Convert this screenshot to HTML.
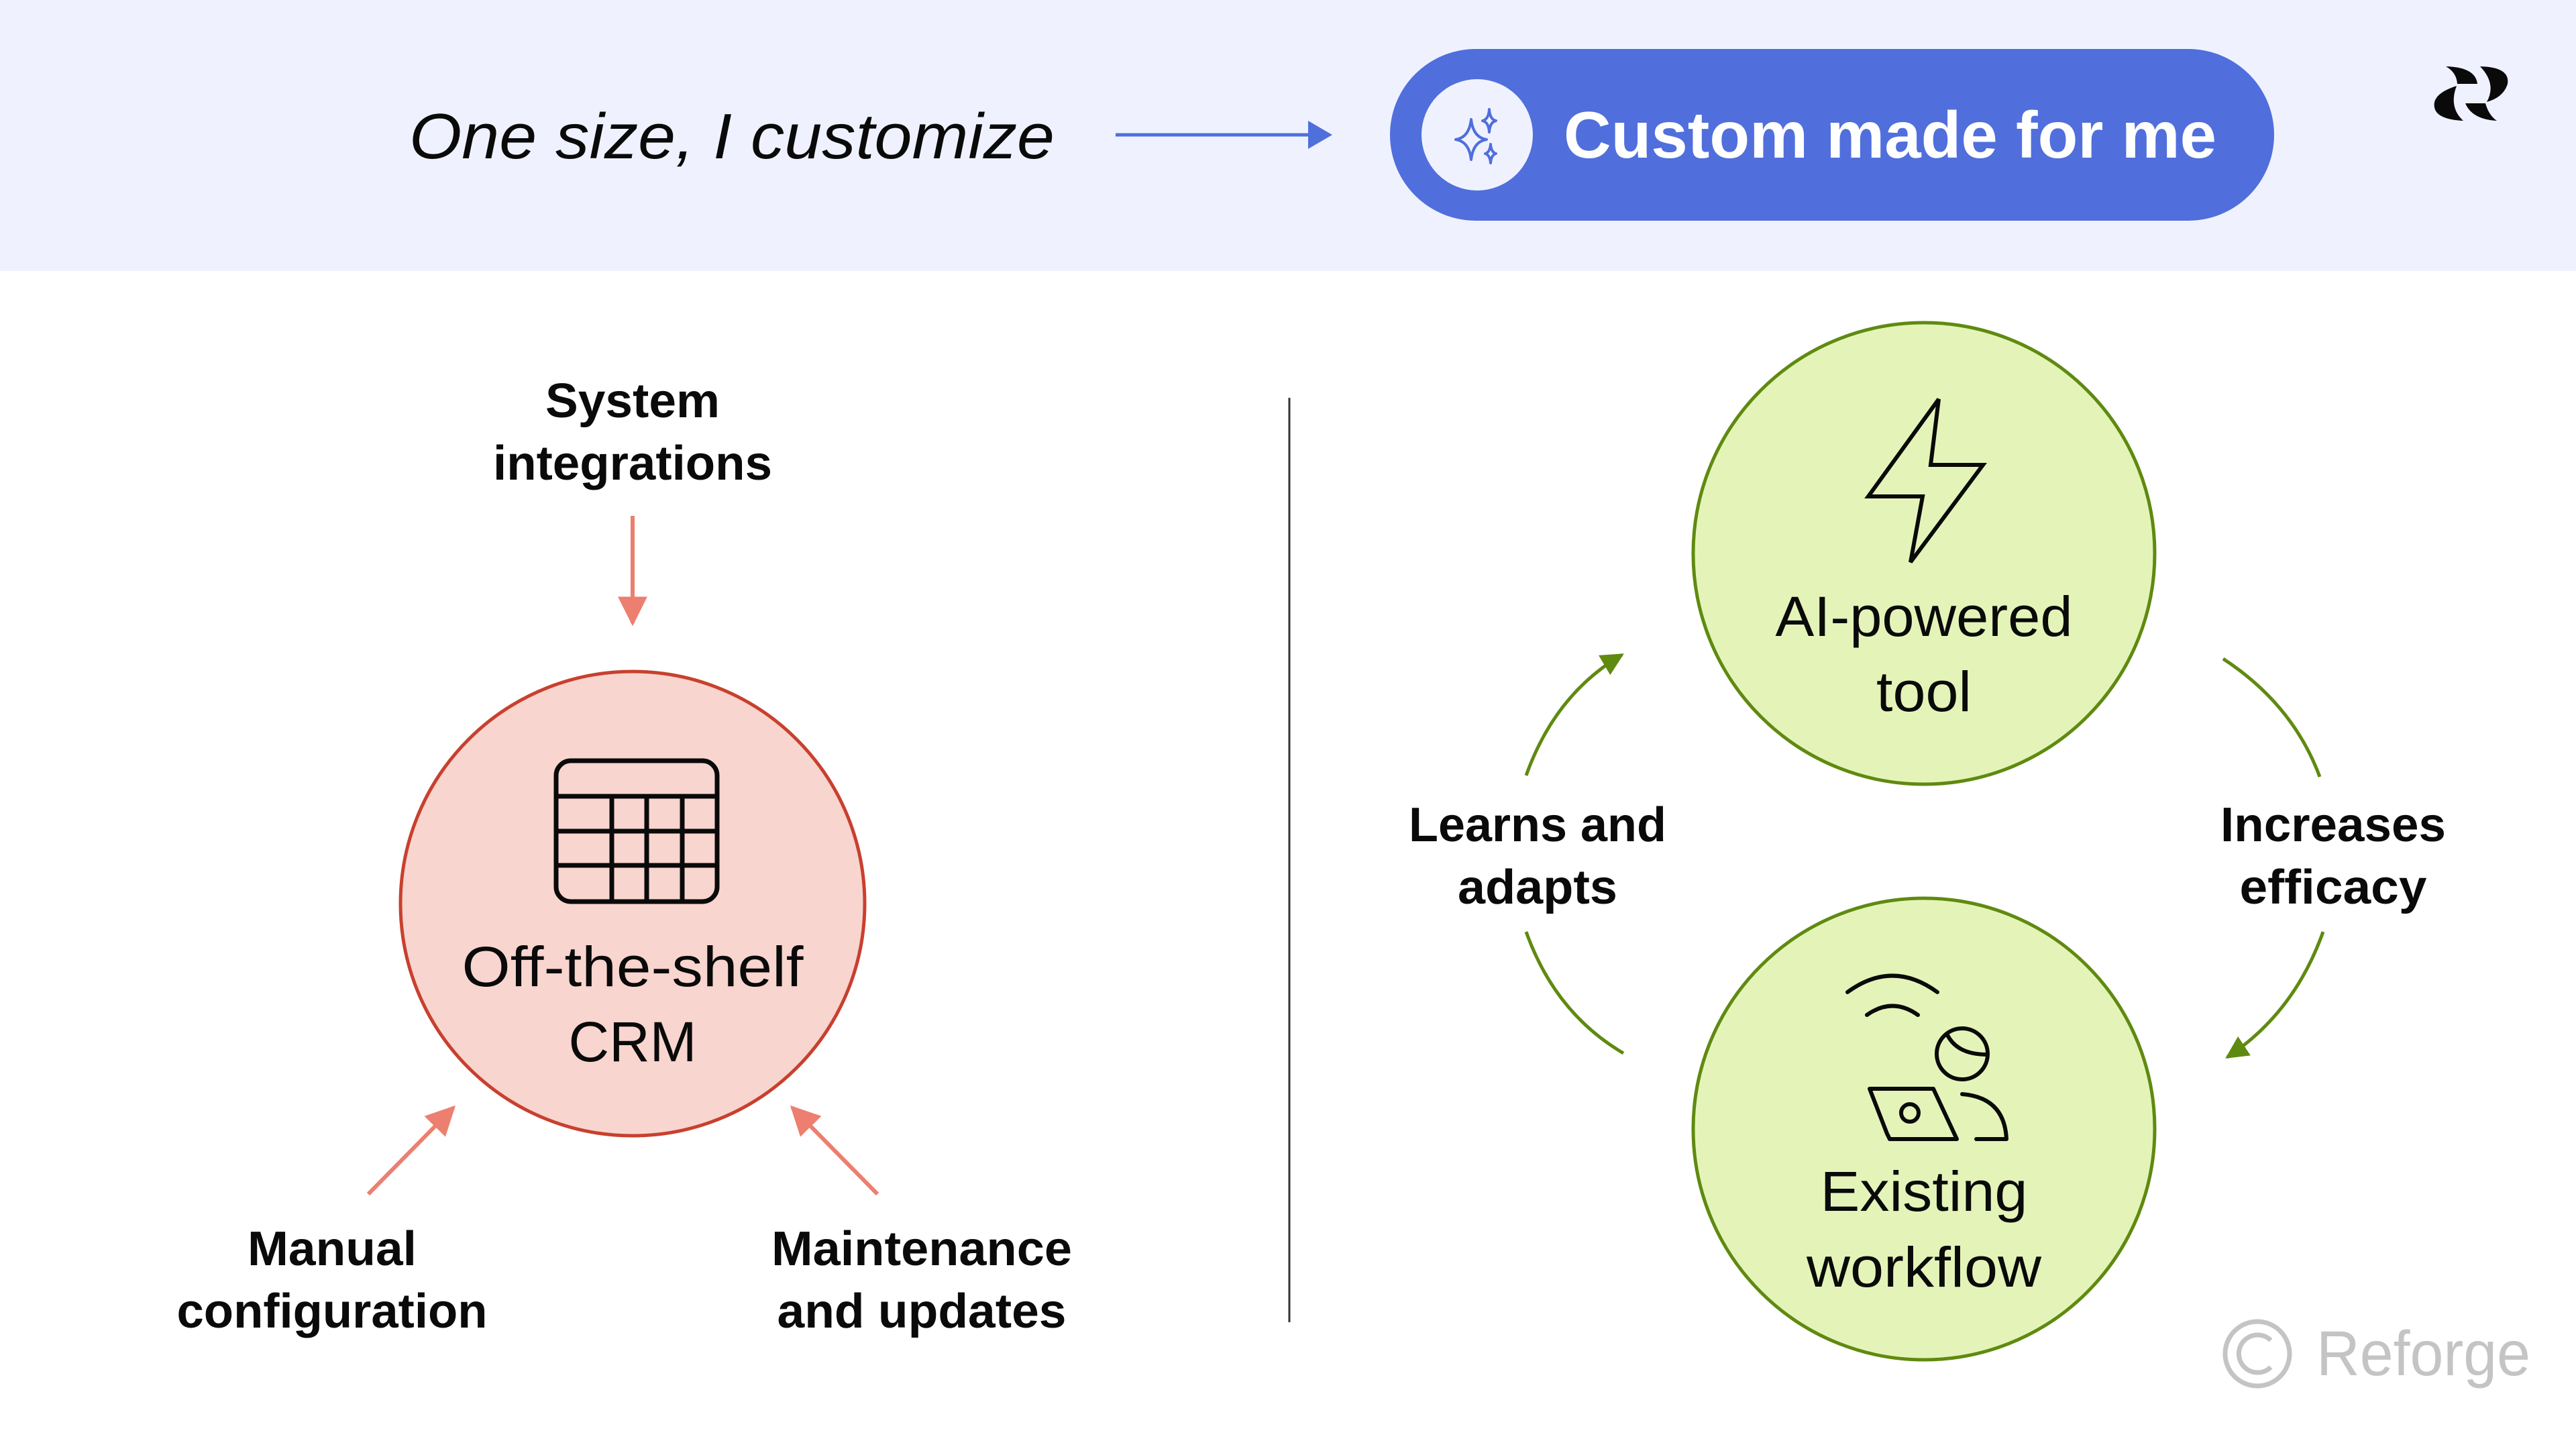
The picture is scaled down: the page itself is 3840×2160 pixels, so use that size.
<!DOCTYPE html>
<html><head><meta charset="utf-8"><style>
html,body{margin:0;padding:0;width:3840px;height:2160px;overflow:hidden;background:#fff}
svg{display:block}
text{font-family:"Liberation Sans",sans-serif;fill:#0a0a0a}
</style></head><body>
<svg width="3840" height="2160" viewBox="0 0 3840 2160" xmlns="http://www.w3.org/2000/svg">
<defs>
<marker id="ar" viewBox="0 0 10 10" refX="9" refY="5" markerWidth="44" markerHeight="44" orient="auto" markerUnits="userSpaceOnUse"><path d="M0,0 L10,5 L0,10 Z" fill="#ec7f6f"/></marker>
<marker id="ag" viewBox="0 0 10 10" refX="9" refY="5" markerWidth="34" markerHeight="34" orient="auto" markerUnits="userSpaceOnUse"><path d="M0,0 L10,5 L0,10 Z" fill="#5f8a10"/></marker>
</defs>
<rect x="0" y="0" width="3840" height="404" fill="#eff2fe"/>
<text x="610" y="236" font-size="96" font-style="italic" textLength="962" lengthAdjust="spacingAndGlyphs">One size, I customize</text>
<line x1="1663" y1="201" x2="1960" y2="201" stroke="#4f6fdc" stroke-width="5"/>
<path d="M1950,180 L1986,201 L1950,222 Z" fill="#4f6fdc"/>
<rect x="2072" y="73" width="1318" height="256" rx="128" fill="#506fdc"/>
<circle cx="2202" cy="201" r="83" fill="#eff2fe"/>
<g fill="none" stroke="#506fdc" stroke-width="4" stroke-linejoin="round">
<path d="M2193,178 Q2196,205 2216,208 Q2196,211 2193,238 Q2190,211 2170,208 Q2190,205 2193,178 Z"/>
<path d="M2220,163 Q2221,178 2230,180 Q2221,182 2220,197 Q2219,182 2210,180 Q2219,178 2220,163 Z"/>
<path d="M2222,215 Q2223,227 2230,229 Q2223,231 2222,243 Q2221,231 2214,229 Q2221,227 2222,215 Z"/>
</g>
<text x="2331" y="235" font-size="98" font-weight="bold" style="fill:#fff" textLength="973" lengthAdjust="spacingAndGlyphs">Custom made for me</text>
<g fill="#0a0a0a">
<path d="M3646,99 Q3690,100 3693,125 L3663,125 Q3662,108 3646,99 Z"/>
<path d="M3697,99 Q3742,100 3738,125 Q3732,145 3707,152 Q3722,125 3697,99 Z"/>
<path d="M3662,128 Q3625,140 3629,160 Q3632,178 3672,180 Q3650,160 3662,128 Z"/>
<path d="M3675,154 L3705,154 Q3710,172 3722,180 Q3685,178 3675,154 Z"/>
</g>
<line x1="1922" y1="593" x2="1922" y2="1971" stroke="#333" stroke-width="3"/>
<text x="943" y="622" font-size="72" font-weight="bold" text-anchor="middle" textLength="260" lengthAdjust="spacingAndGlyphs">System</text>
<text x="943" y="715" font-size="72" font-weight="bold" text-anchor="middle" textLength="416" lengthAdjust="spacingAndGlyphs">integrations</text>
<line x1="943" y1="769" x2="943" y2="929" stroke="#ec7f6f" stroke-width="6" marker-end="url(#ar)"/>
<circle cx="943" cy="1347" r="346" fill="#f8d5cf" stroke="#c8402e" stroke-width="5"/>
<g fill="none" stroke="#0a0a0a" stroke-width="7">
<rect x="829" y="1134" width="240" height="210" rx="22"/>
<line x1="829" y1="1187" x2="1069" y2="1187"/>
<line x1="829" y1="1239" x2="1069" y2="1239"/>
<line x1="829" y1="1290" x2="1069" y2="1290"/>
<line x1="912" y1="1187" x2="912" y2="1344"/>
<line x1="964" y1="1187" x2="964" y2="1344"/>
<line x1="1017" y1="1187" x2="1017" y2="1344"/>
</g>
<text x="943" y="1470" font-size="84" text-anchor="middle" textLength="509" lengthAdjust="spacingAndGlyphs">Off-the-shelf</text>
<text x="943" y="1582" font-size="84" text-anchor="middle" textLength="191" lengthAdjust="spacingAndGlyphs">CRM</text>
<line x1="549" y1="1780" x2="676" y2="1651" stroke="#ec7f6f" stroke-width="6" marker-end="url(#ar)"/>
<line x1="1308" y1="1780" x2="1181" y2="1651" stroke="#ec7f6f" stroke-width="6" marker-end="url(#ar)"/>
<text x="495" y="1886" font-size="72" font-weight="bold" text-anchor="middle" textLength="252" lengthAdjust="spacingAndGlyphs">Manual</text>
<text x="495" y="1979" font-size="72" font-weight="bold" text-anchor="middle" textLength="463" lengthAdjust="spacingAndGlyphs">configuration</text>
<text x="1374" y="1886" font-size="72" font-weight="bold" text-anchor="middle" textLength="448" lengthAdjust="spacingAndGlyphs">Maintenance</text>
<text x="1374" y="1979" font-size="72" font-weight="bold" text-anchor="middle" textLength="431" lengthAdjust="spacingAndGlyphs">and updates</text>
<circle cx="2868" cy="825" r="344" fill="#e4f4b9" stroke="#5f8a10" stroke-width="5"/>
<path d="M2890,595 L2785,740 L2866,740 L2848,838 L2956,693 L2878,693 Z" fill="none" stroke="#0a0a0a" stroke-width="6"/>
<text x="2868" y="948" font-size="84" text-anchor="middle" textLength="443" lengthAdjust="spacingAndGlyphs">AI-powered</text>
<text x="2868" y="1060" font-size="84" text-anchor="middle" textLength="142" lengthAdjust="spacingAndGlyphs">tool</text>
<circle cx="2868" cy="1683" r="344" fill="#e4f4b9" stroke="#5f8a10" stroke-width="5"/>
<g fill="none" stroke="#0a0a0a" stroke-width="6" stroke-linecap="round" stroke-linejoin="round">
<path d="M2754,1479 Q2821,1430 2888,1479"/>
<path d="M2783,1513 Q2821,1486 2859,1513"/>
<circle cx="2925" cy="1571" r="38"/>
<path d="M2903,1543 Q2918,1572 2962,1572"/>
<path d="M2787,1623 L2882,1623 L2917,1698 L2817,1698 L2813,1690 Z"/>
<circle cx="2847" cy="1659" r="13"/>
<path d="M2925,1631 Q2988,1636 2991,1698 L2946,1698"/>
</g>
<text x="2868" y="1805" font-size="84" text-anchor="middle" textLength="309" lengthAdjust="spacingAndGlyphs">Existing</text>
<text x="2868" y="1918" font-size="84" text-anchor="middle" textLength="350" lengthAdjust="spacingAndGlyphs">workflow</text>
<g fill="none" stroke="#5f8a10" stroke-width="5">
<path d="M2275,1156 Q2318,1035 2418,976" marker-end="url(#ag)"/>
<path d="M2275,1389 Q2318,1510 2420,1570"/>
<path d="M3314,982 Q3418,1050 3458,1158"/>
<path d="M3463,1389 Q3420,1510 3320,1576" marker-end="url(#ag)"/>
</g>
<text x="2292" y="1254" font-size="72" font-weight="bold" text-anchor="middle" textLength="384" lengthAdjust="spacingAndGlyphs">Learns and</text>
<text x="2292" y="1347" font-size="72" font-weight="bold" text-anchor="middle" textLength="238" lengthAdjust="spacingAndGlyphs">adapts</text>
<text x="3478" y="1254" font-size="72" font-weight="bold" text-anchor="middle" textLength="336" lengthAdjust="spacingAndGlyphs">Increases</text>
<text x="3478" y="1347" font-size="72" font-weight="bold" text-anchor="middle" textLength="279" lengthAdjust="spacingAndGlyphs">efficacy</text>
<circle cx="3365" cy="2018" r="48" fill="none" stroke="#c4c4c4" stroke-width="7"/>
<path d="M3385,1998 A28,28 0 1 0 3385,2038" fill="none" stroke="#c4c4c4" stroke-width="7"/>
<text x="3453" y="2050" font-size="95" style="fill:#c4c4c4" textLength="319" lengthAdjust="spacingAndGlyphs">Reforge</text>
</svg>
</body></html>
